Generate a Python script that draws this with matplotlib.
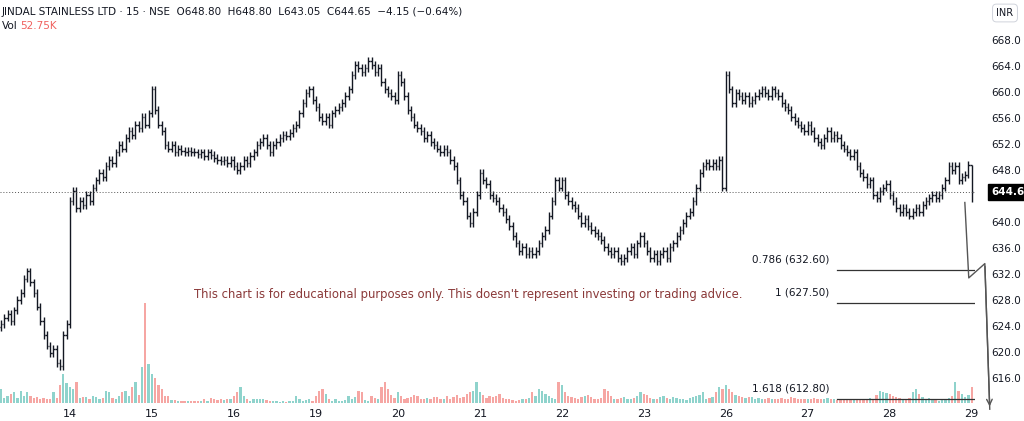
import matplotlib
matplotlib.use("Agg")
import matplotlib.pyplot as plt
import numpy as np

days = ["13", "14", "15", "16", "19", "20", "21", "22", "23", "26", "27", "28", "29"]
closes_by_day = [
 [624.3,625.3,625.9,624.8,626.4,628,629.1,631.3,632.4,630.7,629.1,627,624.8,622.6,621,619.9,620.5,618.3,617.8,622.6,624.3],
 [643.2,644.8,642.1,643.2,642.6,644.2,643.2,645.3,646.4,647.5,646.9,648.6,649.6,649.1,650.7,651.8,651.3,652.9,654,653.4,655,654.5,656.1,655,656.7],
 [660.4,657.2,655,654,651.8,651.3,651.8,650.7,651.3,650.9,650.7,651,650.8,650.7,650.5,650.7,650.2,650.7,650.3,649.9,649.6,649.4,649.6,649.1,649.6],
 [648.6,648,648.6,649.6,649.1,650.2,650.7,651.8,652.3,652.9,651.8,650.7,651.8,652.3,652.9,653.4,653.2,653.7,654.5,655,656.7,658.3,659.9,660.4,658.8],
 [657.7,656.1,655.6,656.1,655,656.7,657.2,657.7,658.3,659.4,660.4,662.6,664.2,663.7,663.1,663.7,664.8,664.2,663.1,663.7,661.5,660.4,659.9,659.4,658.8],
 [662.6,661.5,659.4,657.2,656.1,655,654.5,654,652.9,653.4,652.3,651.8,651.3,650.7,651.3,650.7,649.6,648.6,646.4,644.2,643.2,641,639.9,641.5,644.2],
 [647.5,646.4,645.9,644.2,643.7,643.2,642.1,641.5,640.5,639.4,637.8,636.7,635.6,636.1,635.1,635.6,635.1,635.6,636.7,637.8,638.8,641,643.2,646.4,645.3],
 [646.4,644.2,643.2,642.6,642.1,641,639.9,640.5,639.4,638.8,638.3,637.8,637.2,636.1,635.6,635.1,635.6,634.5,634,634.5,635.6,636.1,635.1,636.7,637.8],
 [636.7,635.6,634.5,635.1,634,635.1,635.6,634.5,636.1,636.7,637.8,638.8,639.9,641,641.5,643.2,645.3,647.5,648.6,649.1,648.6,649.1,648.6,649.6,645.3],
 [662.6,660.4,658.3,659.9,659.4,658.8,659.4,658.3,658.8,659.4,659.9,660.4,659.9,659.4,660.4,659.9,659.4,658.3,657.7,657.2,656.1,655.6,655,654.5,654],
 [655,654,652.9,652.3,651.8,652.9,654,652.9,653.4,652.9,651.8,651.3,650.7,650.2,650.7,648.6,647.5,646.9,645.9,646.4,644.2,643.7,644.8,645.3,645.9],
 [644.2,643.2,642.1,641.5,642.1,641.5,641,641.5,642.1,641.5,642.6,643.2,643.7,644.2,643.7,644.2,645.3,646.4,648.6,648,648.6,646.4,646.9,647.3,648.8],
 [644.65],
]
vol_by_day = [
 [40,15,20,25,30,15,35,20,30,20,15,18,12,15,12,10,30,15,50,80,55],
 [45,38,60,15,18,18,12,20,18,10,15,35,30,15,12,20,30,35,20,45,60,22,100,280,110],
 [80,70,50,40,20,20,8,8,5,5,5,5,5,5,5,5,12,5,15,10,8,10,8,12,12],
 [20,30,45,20,10,6,10,10,12,10,8,6,6,5,2,5,3,5,6,20,10,6,8,10,6],
 [20,35,40,25,10,5,10,5,6,8,20,10,18,35,30,8,5,20,15,10,45,60,40,22,14],
 [30,20,12,15,16,22,20,12,12,14,12,18,16,10,12,20,12,16,22,15,18,25,30,35,60],
 [30,22,15,20,18,20,24,14,12,10,8,6,8,10,12,14,30,20,40,35,25,20,15,12,60],
 [50,30,20,16,14,12,18,20,22,16,12,10,14,40,35,20,12,10,14,18,12,10,14,20,30],
 [25,22,14,12,10,16,20,14,12,18,14,12,10,8,14,16,20,22,30,12,14,16,30,45,40],
 [50,40,30,22,20,18,14,16,18,12,14,10,12,14,10,12,10,14,12,10,16,14,12,10,12],
 [12,10,14,12,10,12,14,12,10,8,12,10,12,10,8,10,12,10,8,14,10,22,35,30,28],
 [25,20,18,15,12,10,14,30,40,25,18,12,14,10,8,6,12,10,15,20,60,35,25,18,22],
 [45],
]
last_open, last_high, last_low, last_close = 648.80, 648.80, 643.05, 644.65
price_ticks = [616, 620, 624, 628, 632, 636, 640, 648, 652, 656, 660, 664, 668]
fib_labels = ["0.786 (632.60)", "1 (627.50)", "1.618 (612.80)"]
fib_prices = [632.60, 627.50, 612.80]
path_bar = [293.9, 295.1, 300.0, 301.5]
path_price = [643.0, 631.4, 633.6, 611.2]

closes = np.concatenate([np.array(d, float) for d in closes_by_day])
vols = np.concatenate([np.array(d, float) for d in vol_by_day])
n = len(closes)
opens = np.concatenate([[closes[0] - 0.5], closes[:-1]])
opens[-1] = last_open
wick = 0.6
highs = np.maximum(opens, closes) + wick
lows = np.minimum(opens, closes) - wick
highs[-1], lows[-1] = last_high, last_low
idx = np.arange(n)

fig = plt.figure(figsize=(10.24, 4.21), dpi=100)
ax = fig.add_axes([0, 18/421, 975/1024, 403/421])
ax.set_xlim(-0.3, 297.0)
ax.set_ylim(668 - 363/6.5, 668 + 40/6.5)

vax = ax.twinx()
vax.set_ylim(0, 1130)
vax.set_axis_off()
up = closes >= opens
vax.bar(idx[up], vols[up], width=0.7, color="#8fd3cc", zorder=1)
vax.bar(idx[~up], vols[~up], width=0.7, color="#f6a6a3", zorder=1)
ax.set_zorder(vax.get_zorder() + 1)
ax.patch.set_visible(False)

ax.vlines(idx, lows, highs, color="#131722", lw=1.0)
ax.hlines(opens, idx - 0.45, idx, color="#131722", lw=1.0)
ax.hlines(closes, idx, idx + 0.45, color="#131722", lw=1.0)

ax.axhline(last_close, color="#555555", lw=0.7, ls=(0, (1, 2)))

day_pos = []
pos = 0
for d in closes_by_day:
    day_pos.append(pos)
    pos += len(d)
ax.set_xticks(day_pos[1:])
ax.set_xticklabels(days[1:])
ax.tick_params(axis="x", length=0, labelsize=8, colors="#131722", pad=4)
ax.yaxis.tick_right()
ax.set_yticks(price_ticks)
ax.set_yticklabels([f"{p:.1f}" for p in price_ticks])
ax.tick_params(axis="y", length=0, labelsize=7.5, colors="#131722", pad=12)
for s in ax.spines.values():
    s.set_visible(False)

for lab, p in zip(fib_labels, fib_prices):
    ax.plot([255, 297], [p, p], color="#333333", lw=0.9)
    ax.text(252.5, p + 1.6, lab, ha="right", va="center", fontsize=7.5, color="#131722")
ax.plot(path_bar, path_price, color="#555555", lw=1.0, clip_on=False)
ax.annotate("", xy=(path_bar[-1], path_price[-1]), xytext=(path_bar[-2], path_price[-2]),
            arrowprops=dict(arrowstyle="->", color="#555555", lw=1.0), annotation_clip=False)

ax.text(142.5, 628.9, "This chart is for educational purposes only. This doesn't represent investing or trading advice.",
        ha="center", va="center", fontsize=8.4, color="#8b3a3a")

fig.text(2/1024, 1 - 12/421, "JINDAL STAINLESS LTD · 15 · NSE  O648.80  H648.80  L643.05  C644.65  −4.15 (−0.64%)",
         fontsize=7.5, color="#131722", va="center", ha="left")
fig.text(2/1024, 1 - 26/421, "Vol", fontsize=7.5, color="#131722", va="center")
fig.text(20/1024, 1 - 26/421, "52.75K", fontsize=7.5, color="#f0605d", va="center")

fig.text(1005/1024, 1 - 13/421, "INR", fontsize=7, color="#131722", va="center", ha="center",
         bbox=dict(boxstyle="round,pad=0.4", fc="white", ec="#d0d3db", lw=0.7))
ax.text(1.017, last_close, "644.65", transform=ax.get_yaxis_transform(), fontsize=7.5, color="white",
        fontweight="bold", va="center", ha="left", clip_on=False,
        bbox=dict(boxstyle="square,pad=0.3", fc="black", ec="black"))

fig.savefig("out.png", dpi=100)
